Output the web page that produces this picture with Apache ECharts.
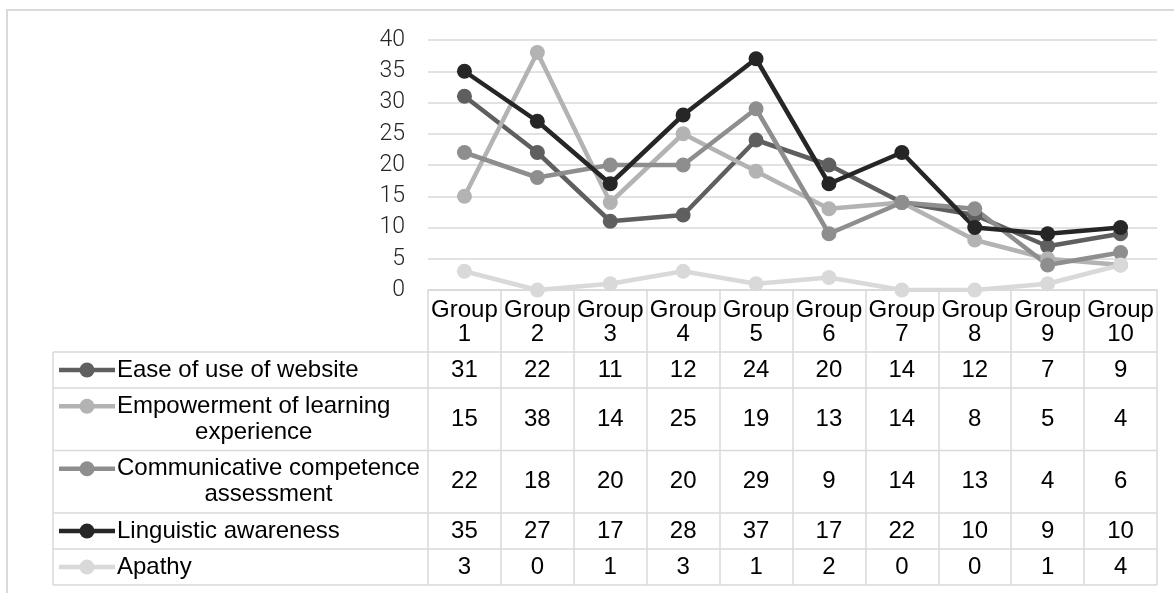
<!DOCTYPE html>
<html>
<head>
<meta charset="utf-8">
<script src="https://cdn.jsdelivr.net/npm/echarts@6/dist/echarts.min.js"></script>
<style>
  html, body { margin: 0; padding: 0; background: #fff; }
  #main { width: 1174px; height: 593px; }
</style>
</head>
<body>
<div id="main"></div>
<script>
// data
var categories = ['Group 1', 'Group 2', 'Group 3', 'Group 4', 'Group 5', 'Group 6', 'Group 7', 'Group 8', 'Group 9', 'Group 10']
var seriesNames = ['Ease of use of website', 'Empowerment of learning experience', 'Communicative competence assessment', 'Linguistic awareness', 'Apathy']
var easeOfUse = [31, 22, 11, 12, 24, 20, 14, 12, 7, 9]
var empowerment = [15, 38, 14, 25, 19, 13, 14, 8, 5, 4]
var communicative = [22, 18, 20, 20, 29, 9, 14, 13, 4, 6]
var linguistic = [35, 27, 17, 28, 37, 17, 22, 10, 9, 10]
var apathy = [3, 0, 1, 3, 1, 2, 0, 0, 1, 4]
var yTicks = [0, 5, 10, 15, 20, 25, 30, 35, 40]

var seriesData = [easeOfUse, empowerment, communicative, linguistic, apathy]
var colors = ['#5f5f5f', '#b3b3b3', '#8e8e8e', '#262626', '#d9d9d9']

var tableFont = '"Liberation Sans", Arial, sans-serif'
var tableSize = 24
var lineH = 26
var gridLine = '#d9d9d9'

// table layout
var tableLeft = 53
var plotLeft = 428
var plotRight = 1157
var axisY = 290
var headerBottom = 352
var textLeft = 117

var ctx = document.createElement('canvas').getContext('2d')
ctx.font = tableSize + 'px ' + tableFont
function wrap (str, maxW) {
  var words = str.split(' ')
  var lines = []
  var cur = ''
  words.forEach(function (w) {
    var t = cur ? cur + ' ' + w : w
    if (ctx.measureText(t).width > maxW && cur) {
      lines.push(cur)
      cur = w
    } else {
      cur = t
    }
  })
  lines.push(cur)
  return lines
}

var myChart = echarts.init(document.getElementById('main'))

var rows = []
var y = headerBottom
seriesNames.forEach(function (name, i) {
  var lines = wrap(name, plotLeft - textLeft - 3)
  var h = 9.5 + 26.5 * lines.length
  rows.push({ lines: lines, top: y, bottom: y + h })
  y += h
})
var tableBottom = y

myChart.setOption({
  backgroundColor: '#fff',
  animation: false,
  grid: {
    left: plotLeft,
    right: 1174 - plotRight,
    top: 40,
    bottom: 593 - axisY
  },
  xAxis: {
    type: 'category',
    data: categories,
    boundaryGap: true,
    axisLine: { lineStyle: { color: gridLine, width: 1.5 } },
    axisTick: {
      show: true,
      length: tableBottom - axisY,
      lineStyle: { color: gridLine, width: 1.5 }
    },
    axisLabel: {
      margin: 8,
      color: '#000',
      fontSize: tableSize,
      fontFamily: tableFont,
      lineHeight: 24,
      interval: 0,
      formatter: function (v) { return v.replace(' ', '\n') }
    }
  },
  yAxis: {
    type: 'value',
    min: yTicks[0],
    max: yTicks[yTicks.length - 1],
    interval: 5,
    axisLine: { show: false },
    axisTick: { show: false },
    axisLabel: {
      margin: 23,
      color: '#262626',
      fontSize: 23,
      fontWeight: 300,
      fontFamily: 'Roboto, sans-serif'
    },
    splitLine: { lineStyle: { color: gridLine, width: 1.5 } }
  },
  series: seriesNames.map(function (name, i) {
    return {
      name: name,
      type: 'line',
      data: seriesData[i],
      symbol: 'circle',
      symbolSize: 15,
      showAllSymbol: true,
      lineStyle: { color: colors[i], width: 4.5 },
      itemStyle: { color: colors[i], borderWidth: 0 }
    }
  })
})

// data table under the plot
var g = []
g.push({
  type: 'rect', z: -10, silent: true,
  shape: { x: 7, y: 10, width: 1300, height: 800 },
  style: { fill: 'none', stroke: gridLine, lineWidth: 2 }
})
g.push({
  type: 'line', silent: true,
  shape: { x1: tableLeft, y1: headerBottom, x2: plotRight, y2: headerBottom },
  style: { stroke: gridLine, lineWidth: 1.5 }
})
g.push({
  type: 'line', silent: true,
  shape: { x1: tableLeft, y1: headerBottom, x2: tableLeft, y2: tableBottom },
  style: { stroke: gridLine, lineWidth: 1.5 }
})
rows.forEach(function (r, i) {
  var cy = (r.top + r.bottom) / 2
  var firstY = cy - (r.lines.length - 1) * lineH / 2
  g.push({
    type: 'line', silent: true,
    shape: { x1: tableLeft, y1: r.bottom, x2: plotRight, y2: r.bottom },
    style: { stroke: gridLine, lineWidth: 1.5 }
  })
  // legend key
  g.push({
    type: 'line', silent: true,
    shape: { x1: 59, y1: firstY, x2: 115, y2: firstY },
    style: { stroke: colors[i], lineWidth: 4.5 }
  })
  g.push({
    type: 'circle', silent: true,
    shape: { cx: 87, cy: firstY, r: 7.5 },
    style: { fill: colors[i] }
  })
  var blockW = Math.max.apply(null, r.lines.map(function (l) { return ctx.measureText(l).width }))
  g.push({
    type: 'text', silent: true,
    style: {
      text: r.lines.join('\n'),
      x: textLeft + blockW / 2,
      y: cy,
      align: 'center',
      verticalAlign: 'middle',
      lineHeight: lineH,
      fontSize: tableSize,
      fontFamily: tableFont,
      fill: '#000'
    }
  })
  seriesData[i].forEach(function (v, j) {
    var px = myChart.convertToPixel({ xAxisIndex: 0 }, j)
    g.push({
      type: 'text', silent: true,
      style: {
        text: String(v),
        x: px,
        y: cy,
        align: 'center',
        verticalAlign: 'middle',
        fontSize: tableSize,
        fontFamily: tableFont,
        fill: '#000'
      }
    })
  })
})
myChart.setOption({ graphic: g })
window.onresize = myChart.resize
</script>
</body>
</html>
